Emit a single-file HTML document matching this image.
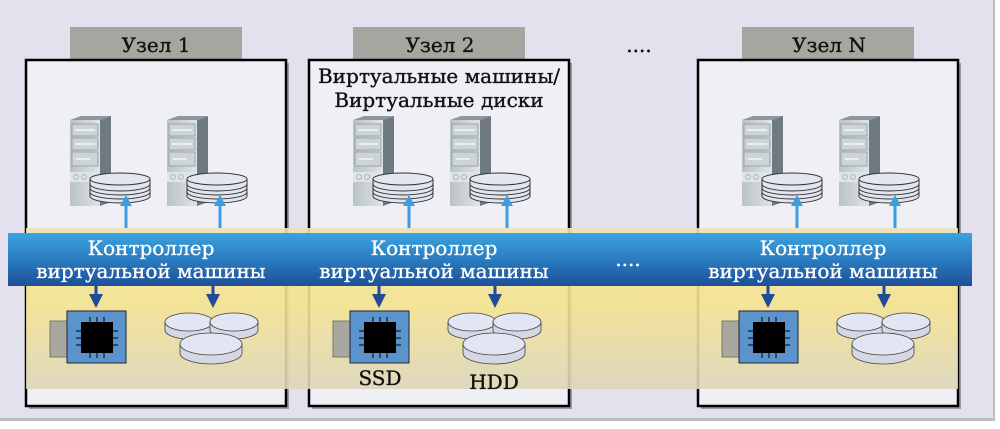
<!DOCTYPE html>
<html><head><meta charset="utf-8"><style>
html,body{margin:0;padding:0;background:#fff;}
svg{display:block;}
text{font-family:"DejaVu Serif","Liberation Serif",serif;}
</style></head><body>
<svg width="1000" height="429" viewBox="0 0 1000 429" xmlns="http://www.w3.org/2000/svg">
<defs>
<linearGradient id="yel" x1="0" y1="0" x2="0" y2="1">
<stop offset="0" stop-color="#ebe3b8"/><stop offset="0.45" stop-color="#f5e38c"/><stop offset="1" stop-color="#ddd6b8"/>
</linearGradient>
<linearGradient id="blu" x1="0" y1="0" x2="0" y2="1">
<stop offset="0" stop-color="#3ba3e0"/><stop offset="0.5" stop-color="#2a7cc0"/><stop offset="1" stop-color="#1e4f98"/>
</linearGradient>
<linearGradient id="srv" x1="0" y1="0" x2="1" y2="0">
<stop offset="0" stop-color="#b9c3c8"/><stop offset="1" stop-color="#dfe4e6"/>
</linearGradient>
<g id="server">
<polygon points="30,0 41,-4 41,82 30,86" fill="#6f7a80"/>
<polygon points="0,0 30,0 41,-4 11,-4" fill="#8d979c"/>
<rect x="0" y="0" width="30" height="86" fill="url(#srv)"/>
<rect x="2" y="4" width="26" height="12" fill="#cdd4d7" stroke="#8d979c" stroke-width="0.8"/>
<rect x="2" y="18" width="26" height="12" fill="#cdd4d7" stroke="#8d979c" stroke-width="0.8"/>
<rect x="2" y="32" width="26" height="14" fill="#cdd4d7" stroke="#8d979c" stroke-width="0.8"/>
<line x1="5" y1="10" x2="25" y2="10" stroke="#fff" stroke-width="1.2"/>
<line x1="5" y1="24" x2="25" y2="24" stroke="#fff" stroke-width="1.2"/>
<line x1="6" y1="39" x2="20" y2="39" stroke="#fff" stroke-width="1.2"/>
<rect x="0" y="52" width="30" height="10" fill="#dfe4e6"/>
<circle cx="6" cy="57" r="2.5" fill="none" stroke="#aab2b6"/>
<circle cx="14" cy="57" r="2.5" fill="none" stroke="#aab2b6"/>
<g transform="translate(20,52)">
<path d="M0,8 v16 a30,7 0 0 0 60,0 v-16 z" fill="#e2e5ef" stroke="#333" stroke-width="1"/>
<path d="M0,20 a30,7 0 0 0 60,0" fill="none" stroke="#333" stroke-width="1"/>
<path d="M0,16 a30,7 0 0 0 60,0" fill="none" stroke="#333" stroke-width="1"/>
<path d="M0,12 a30,7 0 0 0 60,0" fill="none" stroke="#333" stroke-width="1"/>
<ellipse cx="30" cy="7" rx="30" ry="6" fill="#e4e7f1" stroke="#333" stroke-width="1"/>
</g>
</g>
<g id="chip">
<rect x="0" y="10" width="18" height="36" fill="#a8a8a0" stroke="#666" stroke-width="0.8"/>
<rect x="17" y="0" width="59" height="52" fill="#5b94cc" stroke="#223" stroke-width="1"/>
<rect x="31" y="11" width="32" height="31" fill="#000"/>
<g stroke="#000" stroke-width="1">
<path d="M40,6 v5 M47,6 v5 M54,6 v5 M40,42 v5 M47,42 v5 M54,42 v5 M26,20 h5 M26,27 h5 M26,34 h5 M63,20 h5 M63,27 h5 M63,34 h5"/>
</g>
</g>
<g id="disk1">
<path d="M-24,0 v8 a24,9 0 0 0 48,0 v-8 z" fill="#d5d7e4" stroke="#444" stroke-width="0.8"/>
<ellipse cx="0" cy="0" rx="24" ry="9" fill="#e3e6f2" stroke="#444" stroke-width="0.8"/>
</g>
<g id="disks">
<use href="#disk1" x="50" y="22"/>
<use href="#disk1" x="95" y="22"/>
<path d="M41,44 v9 a31,11 0 0 0 62,0 v-9 z" fill="#d5d7e4" stroke="#444" stroke-width="0.8"/>
<ellipse cx="72" cy="44" rx="31" ry="11" fill="#e3e6f2" stroke="#444" stroke-width="0.8"/>
</g>
<g id="up">
<rect x="-1.5" y="8" width="3" height="25" fill="#3a9ee0"/>
<polygon points="-6,11 0,0 6,11" fill="#3a9ee0"/>
</g>
<g id="down">
<rect x="-1.5" y="0" width="3" height="12" fill="#234a94"/>
<polygon points="-7,8 7,8 0,22" fill="#234a94"/>
</g>
<g id="node">
<rect x="44" y="-33" width="172" height="33" fill="#a6a6a0"/>
<rect x="3" y="3" width="260" height="346" fill="#555" opacity="0.5"/>
<rect x="0" y="0" width="260" height="346" fill="#efeff6" stroke="#000" stroke-width="2.5"/>
<use href="#server" x="44" y="60"/>
<use href="#server" x="141" y="60"/>
</g>
</defs>
<rect x="0" y="0" width="995" height="421" fill="#bdbdc4"/>
<rect x="0" y="0" width="993" height="418" fill="#e3e1ed"/>
<use href="#node" x="26" y="60"/>
<use href="#node" x="309" y="60"/>
<use href="#node" x="698" y="60"/>
<rect x="26" y="228" width="932" height="161" fill="url(#yel)" opacity="0.9"/>
<g font-size="20" fill="#111" stroke="#111" stroke-width="0.35">
<text x="156" y="52" text-anchor="middle">Узел 1</text>
<text x="440" y="52" text-anchor="middle">Узел 2</text>
<text x="829" y="52" text-anchor="middle">Узел N</text>
<text x="639" y="52" text-anchor="middle">....</text>
<text x="439" y="83" text-anchor="middle">Виртуальные машины/</text>
<text x="439" y="107" text-anchor="middle">Виртуальные диски</text>
</g>
<use href="#up" x="126" y="195"/><use href="#up" x="220" y="195"/>
<use href="#up" x="409" y="195"/><use href="#up" x="507" y="195"/>
<use href="#up" x="797" y="195"/><use href="#up" x="895" y="195"/>
<rect x="8" y="233" width="964" height="53" fill="url(#blu)"/>
<g font-size="20" fill="#fff" stroke="#fff" stroke-width="0.3" text-anchor="middle">
<text x="151" y="255">Контроллер</text><text x="151" y="278">виртуальной машины</text>
<text x="434" y="255">Контроллер</text><text x="434" y="278">виртуальной машины</text>
<text x="823" y="255">Контроллер</text><text x="823" y="278">виртуальной машины</text>
<text x="628" y="266">....</text>
</g>
<use href="#down" x="96" y="286"/><use href="#down" x="213" y="286"/>
<use href="#down" x="379" y="286"/><use href="#down" x="495" y="286"/>
<use href="#down" x="768" y="286"/><use href="#down" x="884" y="286"/>
<use href="#chip" x="50" y="311"/><use href="#chip" x="333" y="311"/><use href="#chip" x="722" y="311"/>
<use href="#disks" x="139" y="300"/><use href="#disks" x="422" y="300"/><use href="#disks" x="811" y="300"/>
<g font-size="20" fill="#111" stroke="#111" stroke-width="0.35" text-anchor="middle">
<text x="380" y="385">SSD</text><text x="494" y="389">HDD</text>
</g>
</svg>
</body></html>
